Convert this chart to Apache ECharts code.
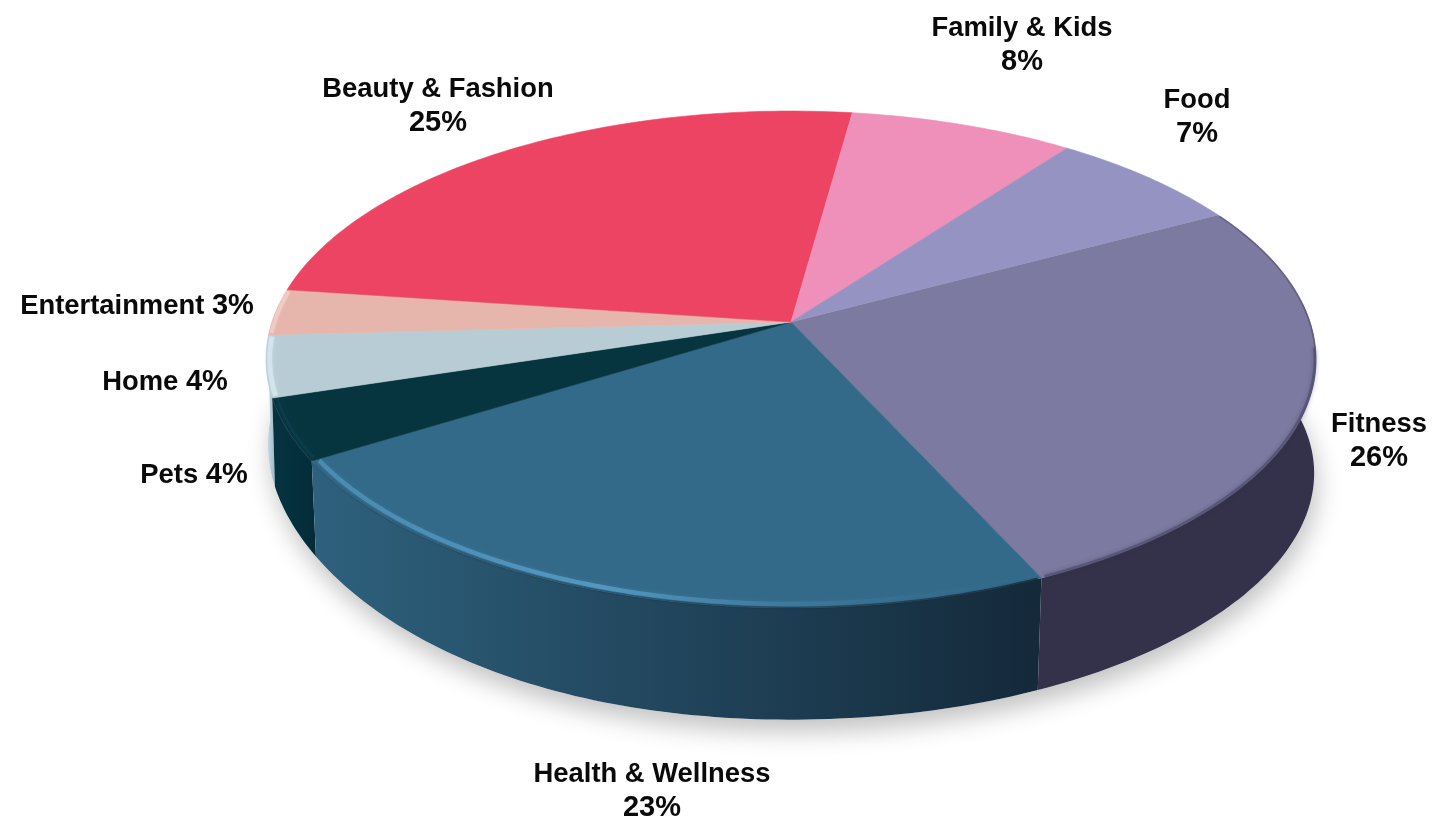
<!DOCTYPE html>
<html>
<head>
<meta charset="utf-8">
<style>html,body{margin:0;padding:0;background:#fff}#chart{width:1434px;height:822px}</style>
<script src="https://cdn.jsdelivr.net/npm/echarts@6/dist/echarts.min.js"></script>
</head>
<body>
<div id="chart"></div>
<script>
// Share of audience by content category, in percent, clockwise from the Food/Fitness boundary.
const categories = ['Fitness', 'Health & Wellness', 'Pets', 'Home', 'Entertainment', 'Beauty & Fashion', 'Family & Kids', 'Food'];
const shares = [26, 23, 4, 4, 3, 25, 8, 7];

// Face and wall colours per category.
const faceColors = ['#7c7aa0', '#336a8a', '#06343f', '#b8ccd5', '#e6b5ab', '#ee4463', '#ee90b9', '#9593c1'];
const wallStops = [
  ['#33324a', '#33324a'],
  ['#2e617d', '#14293a'],
  ['#043441', '#042c38'],
  ['#cfe3ec', '#9fb8c4'],
  ['#e6c5bd', '#e6c5bd'],
  ['#a02c40', '#a02c40'],
  ['#a0607c', '#a0607c'],
  ['#62607f', '#62607f']
];

// Label anchors: horizontal centre and vertical centre of each text block.
const labelAnchors = [[1379, 441], [652, 791], [194, 475], [165, 382], [137, 306], [438, 106], [1022, 45], [1197, 117]];

// Perspective disc: centre of the pie, half widths, foreshortening and thickness.
const DISC = { cx: 791, cy: 322, bx: 519, by: 242.8, k: -0.151, depth: 116, floor: 0.985, flare: 0.012, leftLift: 30 };
const START_DEG = -28.2;

function project(deg, r, lower) {
  const t = deg * Math.PI / 180;
  const u = r * Math.cos(t), v = r * Math.sin(t);
  const d = 1 + DISC.k * v;
  if (!lower) return [DISC.cx + DISC.bx * u / d, DISC.cy + DISC.by * v / d];
  const lift = u < 0 ? DISC.leftLift * Math.pow(-u, 3) : 0;
  const sx = DISC.floor + DISC.flare * Math.pow(u, 4);
  return [DISC.cx + sx * DISC.bx * u / d, DISC.cy + DISC.depth - lift + DISC.floor * DISC.by * v / d];
}
function arc(from, to, r, lower) {
  const pts = [];
  const n = Math.max(2, Math.ceil(Math.abs(to - from)));
  for (let i = 0; i <= n; i++) pts.push(project(from + (to - from) * i / n, r, lower));
  return pts;
}

const total = shares.reduce((a, b) => a + b, 0);
const spans = [];
shares.reduce((acc, s) => {
  const next = acc + s / total * 360;
  spans.push([acc, next]);
  return next;
}, START_DEG);

const sliceData = shares.map((s, i) => ({ name: categories[i], value: s }));

function renderShadow() {
  return {
    type: 'polygon',
    shape: { points: arc(0, 360, 1, true) },
    style: { fill: '#fff', shadowBlur: 24, shadowColor: 'rgba(0,0,0,0.24)', shadowOffsetY: 12, shadowOffsetX: 3 },
    silent: true
  };
}
function renderWall(params) {
  const i = params.dataIndex;
  const from = Math.max(spans[i][0], -5), to = Math.min(spans[i][1], 185);
  if (to <= from) return null;
  const pts = arc(from, to, 1, false).concat(arc(to, from, 1, true));
  const xs = pts.map(p => p[0]);
  const mid = (from + to) / 2;
  const stops = wallStops[i];
  return {
    type: 'polygon',
    z2: Math.round(Math.sin(mid * Math.PI / 180) * 100) + 100,
    shape: { points: pts },
    style: {
      fill: new echarts.graphic.LinearGradient(Math.min(...xs), 0, Math.max(...xs), 0, [
        { offset: 0, color: stops[0] },
        { offset: 1, color: stops[1] }
      ], true)
    },
    silent: true
  };
}
function renderFace(params) {
  const i = params.dataIndex;
  const pts = [[DISC.cx, DISC.cy]].concat(arc(spans[i][0], spans[i][1], 1, false));
  return {
    type: 'polygon',
    shape: { points: pts },
    style: { fill: faceColors[i], stroke: faceColors[i], lineWidth: 0.6 },
    silent: true
  };
}
// Soft bevel along the outer edge of the front-facing slices.
function rimStroke(from, to, r, stroke, lineWidth, blur, blurColor) {
  return {
    type: 'polyline',
    shape: { points: arc(from, to, r, false) },
    style: { fill: null, stroke, lineWidth, lineCap: 'butt', shadowBlur: blur, shadowColor: blurColor },
    silent: true
  };
}
function renderRim(params) {
  const i = params.dataIndex;
  const [a, b] = spans[i];
  const name = categories[i];
  const inset = 0.4;
  if (name === 'Fitness') {
    return { type: 'group', children: [
      rimStroke(a + inset, 6, 0.999, 'rgba(70,68,96,0.45)', 1.5, 1, 'rgba(70,68,96,0.3)'),
      rimStroke(6, b - inset, 0.998, 'rgba(74,72,104,0.6)', 3, 4, 'rgba(50,48,74,0.55)')
    ] };
  }
  if (name === 'Health & Wellness') {
    const xl = project(b, 1, false)[0], xr = project(a, 1, false)[0];
    const glow = new echarts.graphic.LinearGradient(xl, 0, xr, 0, [
      { offset: 0, color: 'rgba(80,150,190,0.7)' },
      { offset: 0.4, color: 'rgba(88,158,200,0.85)' },
      { offset: 0.72, color: 'rgba(70,130,170,0.35)' },
      { offset: 1, color: 'rgba(50,100,130,0)' }
    ], true);
    const dusk = new echarts.graphic.LinearGradient(xl, 0, xr, 0, [
      { offset: 0, color: 'rgba(30,70,95,0.25)' },
      { offset: 1, color: 'rgba(20,42,58,0.8)' }
    ], true);
    return { type: 'group', children: [
      rimStroke(a + inset, b - inset, 1, dusk, 2.5, 3, 'rgba(20,42,58,0.3)'),
      rimStroke(a + inset, b - 0.3, 0.988, glow, 4.5, 4, 'rgba(90,160,200,0.2)')
    ] };
  }
  if (name === 'Pets') {
    return rimStroke(a + inset, b - inset, 0.992, 'rgba(14,70,86,0.4)', 3, 3, 'rgba(14,70,86,0.3)');
  }
  if (name === 'Home') {
    return rimStroke(a + inset, b - inset, 0.993, 'rgba(215,233,241,0.75)', 5, 4, 'rgba(222,238,245,0.5)');
  }
  if (name === 'Entertainment') {
    return rimStroke(a + inset, b - inset, 0.995, 'rgba(243,210,203,0.7)', 4, 3, 'rgba(245,215,208,0.4)');
  }
  return null;
}
function renderLabel(params) {
  const i = params.dataIndex;
  const pct = shares[i] + '%';
  const joiner = shares[i] <= 4 ? ' ' : '\n';
  return {
    type: 'text',
    style: {
      x: labelAnchors[i][0],
      y: labelAnchors[i][1],
      text: '{n|' + categories[i] + (joiner === ' ' ? ' ' : '') + '}' + (joiner === ' ' ? '' : '\n') + '{v|' + pct + '}',
      align: 'center',
      verticalAlign: 'middle',
      fontFamily: '"Liberation Sans", Arial, sans-serif',
      fontWeight: 'bold',
      fontSize: 27.4,
      lineHeight: 33,
      fill: '#0a0a0a',
      rich: {
        n: { fontFamily: '"Liberation Sans", Arial, sans-serif', fontWeight: 'bold', fontSize: 27.4, lineHeight: 33, fill: '#0a0a0a' },
        v: { fontFamily: '"Liberation Sans", Arial, sans-serif', fontWeight: 'bold', fontSize: 29, lineHeight: 33, fill: '#0a0a0a' }
      }
    },
    silent: true
  };
}
const layer = (name, renderItem, data, z) => ({
  type: 'custom', name, coordinateSystem: 'none', renderItem, data, z, animation: false, silent: true, clip: false
});

const chart = echarts.init(document.getElementById('chart'), null, { renderer: 'canvas' });
chart.setOption({
  backgroundColor: '#ffffff',
  animation: false,
  tooltip: { show: false },
  series: [
    layer('shadow', renderShadow, [0], 1),
    layer('walls', renderWall, sliceData, 2),
    layer('faces', renderFace, sliceData, 3),
    layer('rims', renderRim, sliceData, 4),
    layer('labels', renderLabel, sliceData, 5)
  ]
});
</script>
</body>
</html>
